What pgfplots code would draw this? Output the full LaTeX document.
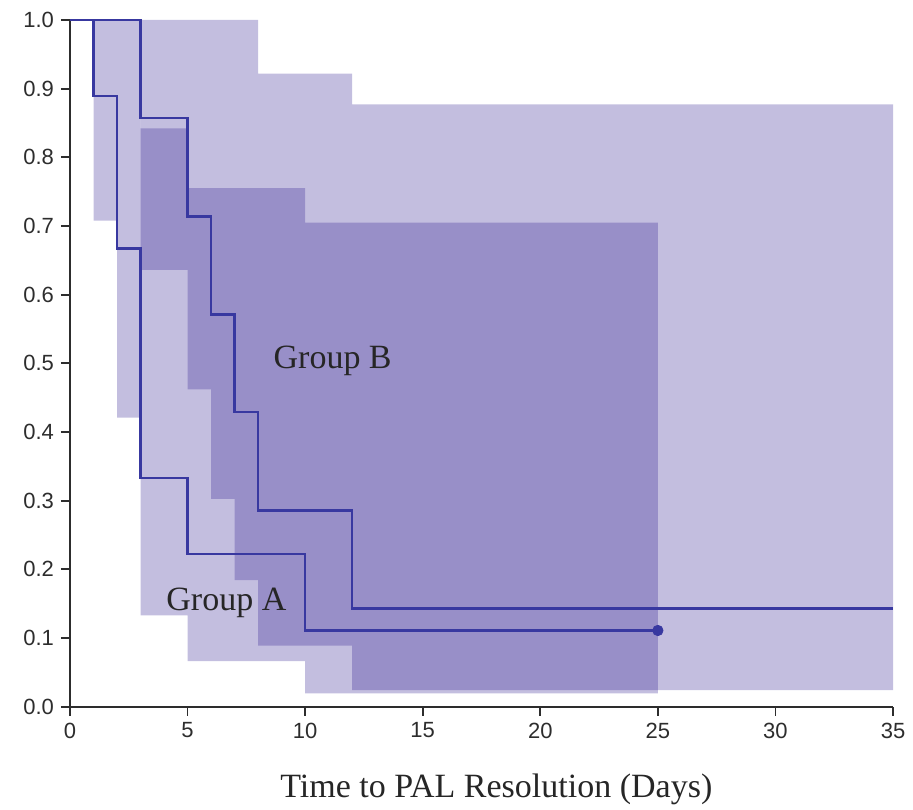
\documentclass[border=0pt]{standalone}
\usepackage{fontspec}
\usepackage{pgfplots}
\pgfplotsset{compat=1.18}
\setmainfont{Liberation Serif}
\newfontfamily\ticksans{Liberation Sans}

\definecolor{bandcol}{RGB}{40,20,140}
\definecolor{curvecol}{RGB}{56,56,160}
\definecolor{axiscol}{RGB}{45,45,45}

\begin{document}
\begin{tikzpicture}
% page = 913 x 809 px at 0.5pt per px
\path[use as bounding box] (-35pt,-51.15pt) rectangle (421.5pt,353.35pt);
\begin{axis}[
    scale only axis,
    width=411.5pt,
    height=343.35pt,
    xmin=0, xmax=35,
    ymin=0, ymax=1,
    clip=false,
    axis x line=bottom,
    axis y line=left,
    axis line style={-, line width=1pt, draw=axiscol},
    tick style={line width=0.9pt, draw=axiscol},
    tick align=outside,
    major tick length=4.5pt,
    xtick={0,5,...,35},
    ytick={0,0.1,...,1.0},
    yticklabel style={/pgf/number format/.cd, fixed, fixed zerofill, precision=1},
    /pgf/number format/assume math mode=true,
    tick label style={font=\ticksans\fontsize{11}{13}\selectfont, text=axiscol},
    xlabel={Time to PAL Resolution (Days)},
    xlabel style={font=\fontsize{17}{20}\selectfont, text=black!85,
        at={(axis description cs:0.518,0)}, anchor=base, yshift=-45.6pt},
]
% Group A confidence band
\addplot[fill=bandcol, fill opacity=0.28, draw=none] coordinates {
    (1,1) (3,1) (3,0.842) (5,0.842) (5,0.755) (10,0.755) (10,0.705) (25,0.705)
    (25,0.0195) (10,0.0195) (10,0.0665) (5,0.0665) (5,0.133) (3,0.133)
    (3,0.421) (2,0.421) (2,0.708) (1,0.708)} -- cycle;
% Group B confidence band
\addplot[fill=bandcol, fill opacity=0.28, draw=none] coordinates {
    (3,1) (8,1) (8,0.922) (12,0.922) (12,0.877) (35,0.877)
    (35,0.024) (12,0.024) (12,0.089) (8,0.089) (8,0.1845) (7,0.1845)
    (7,0.3025) (6,0.3025) (6,0.462) (5,0.462) (5,0.636) (3,0.636)} -- cycle;

% Kaplan-Meier curves
\addplot[const plot, curvecol, line width=1.2pt] coordinates {
    (0,1) (1,0.889) (2,0.667) (3,0.333) (5,0.222) (10,0.111) (25,0.111)};
\addplot[const plot, curvecol, line width=1.2pt] coordinates {
    (0,1) (3,0.857) (5,0.714) (6,0.571) (7,0.429) (8,0.286) (12,0.143) (35,0.143)};
% censored point
\addplot[only marks, mark=*, mark size=2.6pt, curvecol] coordinates {(25,0.111)};

\node[anchor=base west, font=\fontsize{17}{20}\selectfont, text=black!85]
    at (axis cs:8.36,0.4928) {Group B};
\node[anchor=base west, font=\fontsize{17}{20}\selectfont, text=black!85]
    at (axis cs:3.80,0.1408) {Group A};
\end{axis}
\end{tikzpicture}
\end{document}
